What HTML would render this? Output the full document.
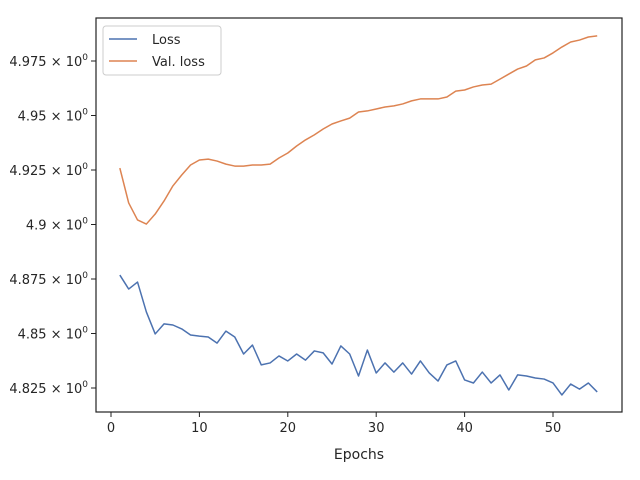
<!DOCTYPE html>
<html><head><meta charset="utf-8"><style>
body{margin:0;background:#fff;}
svg{display:block;font-family:"DejaVu Sans","Liberation Sans",sans-serif;}
</style></head><body>
<svg id="chart" width="640" height="480"></svg>
<script>
const epochs = Array.from({length:55},(_, i)=>i+1);
const lossValues = [4.8768,4.8704,4.8736,4.8599,4.8498,4.8544,4.8539,4.8521,4.8493,4.8488,4.8484,4.8456,4.8511,4.8484,4.8406,4.8447,4.8356,4.8365,4.8397,4.8374,4.8406,4.8378,4.8420,4.8411,4.8360,4.8443,4.8406,4.8305,4.8424,4.8319,4.8365,4.8323,4.8365,4.8314,4.8374,4.8319,4.8282,4.8356,4.8374,4.8287,4.8273,4.8323,4.8273,4.8310,4.8241,4.8310,4.8305,4.8296,4.8291,4.8273,4.8218,4.8268,4.8245,4.8273,4.8232];
const valLossValues = [4.9259,4.9099,4.9021,4.9002,4.9048,4.9108,4.9177,4.9227,4.9273,4.9296,4.9300,4.9291,4.9277,4.9268,4.9268,4.9273,4.9273,4.9277,4.9305,4.9328,4.9360,4.9388,4.9411,4.9438,4.9461,4.9475,4.9488,4.9516,4.9521,4.9530,4.9539,4.9544,4.9553,4.9567,4.9576,4.9576,4.9576,4.9585,4.9612,4.9617,4.9631,4.9640,4.9644,4.9667,4.9690,4.9713,4.9727,4.9755,4.9764,4.9787,4.9814,4.9837,4.9846,4.9860,4.9865];
const xTicks = [0,10,20,30,40,50];
const yTicks = [4.825,4.85,4.875,4.9,4.925,4.95,4.975];
const yTickLabels = ["4.825","4.85","4.875","4.9","4.925","4.95","4.975"];

const NS="http://www.w3.org/2000/svg";
const svg=document.getElementById('chart');
const L=96,R=622,T=18,B=412;
const xs=v=>111+(v-0)*(553-111)/50;
const ys=v=>388-(v-4.825)*(388-61)/0.15;
function mk(tag,attrs,parent){const e=document.createElementNS(NS,tag);for(const k in attrs)e.setAttribute(k,attrs[k]);(parent||svg).appendChild(e);return e;}

xTicks.forEach(t=>{
  const g=mk('g',{});
  
  
  mk('line',{x1:xs(t),x2:xs(t),y1:B,y2:B+5,stroke:'#222','stroke-width':1},g);
  const tx=mk('text',{x:xs(t),y:B+20,'text-anchor':'middle','font-size':13,fill:'#262626'},g);
  tx.textContent=t;
});
yTicks.forEach((t,i)=>{
  const g=mk('g',{});
  
  
  mk('line',{x1:L-5,x2:L,y1:ys(t),y2:ys(t),stroke:'#222','stroke-width':1},g);
  const tx=mk('text',{x:88,y:ys(t)+5,'text-anchor':'end','font-size':13,fill:'#262626'},g);
  tx.textContent=yTickLabels[i]+' \u00d7 10';
  const sup=mk('tspan',{'font-size':9,dy:-6},tx);
  sup.textContent='0';
});

function series(vals,color,name){
  const p=mk('polyline',{points:vals.map((v,i)=>xs(epochs[i])+','+ys(v)).join(' '),fill:'none',stroke:color,'stroke-width':1.5,'stroke-linejoin':'round'});
  
  
}
series(lossValues,'#4c72b0','loss-line');
series(valLossValues,'#dd8452','val-loss-line');

const frame=mk('rect',{x:L,y:T,width:R-L,height:B-T,fill:'none',stroke:'#222','stroke-width':1.2});



const xl=mk('text',{x:359,y:459,'text-anchor':'middle','font-size':14,fill:'#262626'});


xl.textContent='Epochs';

const lg=mk('g',{});


mk('rect',{x:103,y:26,width:118,height:49,rx:3,fill:'#fff',stroke:'#ccc','stroke-width':1},lg);
[['Loss','#4c72b0',44],['Val. loss','#dd8452',66]].forEach(([lab,c,y])=>{
  const e=mk('g',{},lg);
  
  
  mk('line',{x1:109,x2:137,y1:y-5,y2:y-5,stroke:c,'stroke-width':1.5},e);
  const t=mk('text',{x:152,y:y,'font-size':13,fill:'#262626'},e);
  t.textContent=lab;
});
</script>
</body></html>
